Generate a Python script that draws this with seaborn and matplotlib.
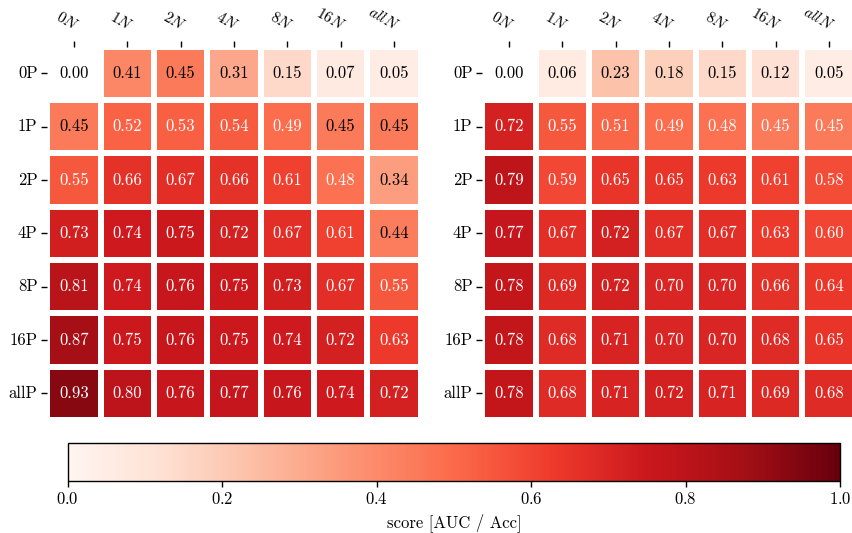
import numpy as np
import pandas as pd
import matplotlib
matplotlib.use("Agg")
import matplotlib.pyplot as plt
import seaborn as sns

# Computer Modern look for all text
plt.rcParams["font.family"] = "serif"
plt.rcParams["font.serif"] = ["cmr10", "DejaVu Serif"]
plt.rcParams["mathtext.fontset"] = "cm"
plt.rcParams["axes.formatter.use_mathtext"] = True
plt.rcParams["font.size"] = 12

pos_labels = ["0P", "1P", "2P", "4P", "8P", "16P", "allP"]
neg_labels = [r"$0N$", r"$1N$", r"$2N$", r"$4N$", r"$8N$", r"$16N$", r"$allN$"]

scores_left = [
    [0.00, 0.41, 0.45, 0.31, 0.15, 0.07, 0.05],
    [0.45, 0.52, 0.53, 0.54, 0.49, 0.45, 0.45],
    [0.55, 0.66, 0.67, 0.66, 0.61, 0.48, 0.34],
    [0.73, 0.74, 0.75, 0.72, 0.67, 0.61, 0.44],
    [0.81, 0.74, 0.76, 0.75, 0.73, 0.67, 0.55],
    [0.87, 0.75, 0.76, 0.75, 0.74, 0.72, 0.63],
    [0.93, 0.80, 0.76, 0.77, 0.76, 0.74, 0.72],
]

scores_right = [
    [0.00, 0.06, 0.23, 0.18, 0.15, 0.12, 0.05],
    [0.72, 0.55, 0.51, 0.49, 0.48, 0.45, 0.45],
    [0.79, 0.59, 0.65, 0.65, 0.63, 0.61, 0.58],
    [0.77, 0.67, 0.72, 0.67, 0.67, 0.63, 0.60],
    [0.78, 0.69, 0.72, 0.70, 0.70, 0.66, 0.64],
    [0.78, 0.68, 0.71, 0.70, 0.70, 0.68, 0.65],
    [0.78, 0.68, 0.71, 0.72, 0.71, 0.69, 0.68],
]

W, H = 853, 533
fig = plt.figure(figsize=(W / 100, H / 100), dpi=100)

cell = 53.35
panel = 7 * cell
ax_left = fig.add_axes([47.2 / W, (H - 420.0) / H, panel / W, panel / H])
ax_right = fig.add_axes([482.2 / W, (H - 420.0) / H, panel / W, panel / H])
cax = fig.add_axes([67.7 / W, (H - 481.0) / H, (840.0 - 67.7) / W, (481.0 - 442.7) / H])

FS = 12


def draw_panel(ax, values, dark_below):
    df = pd.DataFrame(values, index=pos_labels, columns=neg_labels)
    empty = df.values == 0  # zero-score cells stay blank white
    sns.heatmap(
        df, ax=ax, cmap="Reds", vmin=0, vmax=1, annot=True, fmt=".2f",
        annot_kws={"fontsize": FS}, linewidths=4, linecolor="white",
        cbar=False, mask=empty,
    )
    for r, c in np.argwhere(empty):
        ax.text(c + 0.5, r + 0.5, f"{df.values[r, c]:.2f}",
                ha="center", va="center", fontsize=FS)
    # light cells carry dark numbers, darker cells white numbers
    for txt in ax.texts:
        v = float(txt.get_text())
        txt.set_color("black" if v < dark_below else "white")
    ax.xaxis.tick_top()
    ax.tick_params(axis="x", top=True, bottom=False, labeltop=True,
                   labelbottom=False, length=4, width=1, pad=5.5)
    ax.tick_params(axis="y", length=4, width=1, pad=3)
    ax.set_xticklabels(neg_labels, rotation=-30, ha="right", va="bottom",
                       rotation_mode="anchor", fontsize=11)
    ax.set_yticklabels(pos_labels, rotation=0, fontsize=FS)
    ax.set_xlabel("")
    ax.set_ylabel("")


draw_panel(ax_left, scores_left, 0.47)
draw_panel(ax_right, scores_right, 0.30)

mappable = ax_left.collections[0]
cb = fig.colorbar(mappable, cax=cax, orientation="horizontal")
cb.set_ticks([0.0, 0.2, 0.4, 0.6, 0.8, 1.0])
cb.ax.tick_params(labelsize=FS, length=4, width=1)
cb.set_label("score [AUC / Acc]", fontsize=FS)
cb.outline.set_linewidth(1)

fig.savefig("out.png", dpi=100)
